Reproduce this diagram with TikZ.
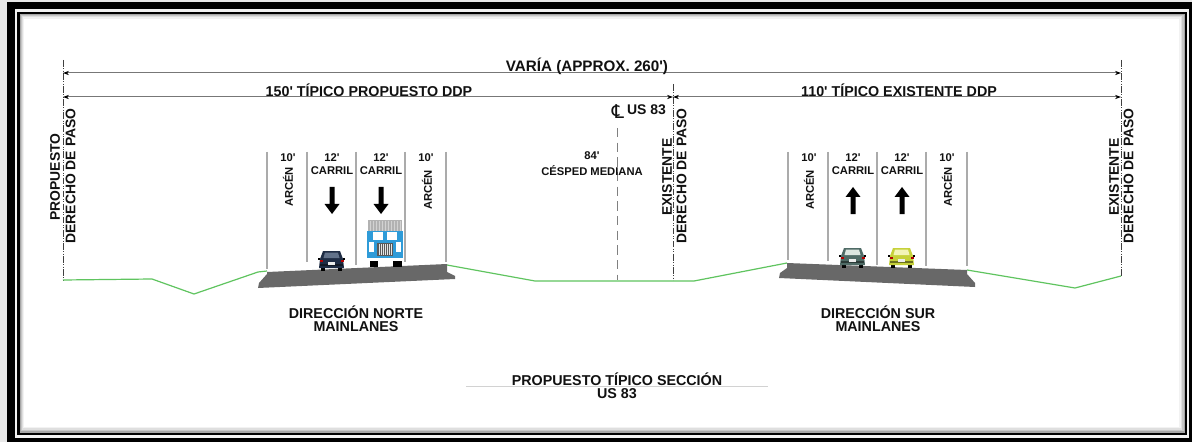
\documentclass[tikz,border=0pt]{standalone}
\usepackage{fontspec}
\setmainfont{Liberation Sans}[Ligatures=TeXOff]
\newfontfamily\djv{DejaVu Sans}
\usetikzlibrary{arrows.meta}
\newcommand\lbl[1]{\fontsize{\dimexpr#1pt*3/4\relax}{\dimexpr#1pt*3/4\relax}\selectfont\bfseries}
\definecolor{txt}{HTML}{111111}
\definecolor{grass}{HTML}{5FC45F}
\definecolor{pave}{HTML}{686868}
\definecolor{guide}{HTML}{ABABAB}
\definecolor{dimc}{HTML}{777777}
\definecolor{truckblue}{HTML}{2F9BD8}
\definecolor{carA}{HTML}{1E2C44}
\definecolor{winA}{HTML}{62728A}
\definecolor{carB}{HTML}{4F6B66}
\definecolor{winB}{HTML}{DCE6E0}
\definecolor{carC}{HTML}{C6D13A}
\definecolor{winC}{HTML}{F3F4B8}
\tikzset{
 x=0.75pt,y=-0.75pt,
 label/.style={inner sep=0,outer sep=0,text=txt,align=center},
 dimline/.style={draw=dimc,line width=0.75pt,{Stealth[length=4.5pt,width=3.2pt,color=black]}-{Stealth[length=4.5pt,width=3.2pt,color=black]}},
 rowline/.style={draw=black!75,line width=0.6pt,dash pattern=on 5pt off 1.2pt on 0.6pt off 1.2pt on 0.6pt off 1.2pt},
 cline/.style={draw=black!50,line width=0.6pt,dash pattern=on 7pt off 4pt},
 guideline/.style={draw=guide,line width=0.8pt},
 ground/.style={draw=grass,line width=0.9pt,line join=round},
 road/.style={fill=pave,draw=none},
}
\newcommand\dnarw[1]{\fill[black,shift={(#1,0)}] (-2.5,187)--(2.5,187)--(2.5,204)--(7.5,204)--(0,214)--(-7.5,204)--(-2.5,204)--cycle;}
\newcommand\uparw[1]{\fill[black,shift={(#1,0)}] (-2.5,214)--(2.5,214)--(2.5,197)--(7.5,197)--(0,187)--(-7.5,197)--(-2.5,197)--cycle;}
\newcommand\carback[4]{%
 \begin{scope}[shift={(#1,#2)}]
 \fill[black] (3,17) rectangle (7,21);
 \fill[black] (20,17) rectangle (24,21);
 \fill[#3] (2,9)--(5,1)--(22,1)--(25,9)--(26,18)--(1,18)--cycle;
 \fill[#4] (5.5,8)--(7,2.5)--(20,2.5)--(21.5,8)--cycle;
 \fill[#3!55!black] (2,14) rectangle (25,16);
 \fill[red!70!black] (1.5,9.5) rectangle (4.5,12);
 \fill[red!70!black] (22.5,9.5) rectangle (25.5,12);
 \fill[white!85!gray] (10,12) rectangle (17,14.5);
 \fill[black] (0,7.5) rectangle (2,9.5);
 \fill[black] (25,7.5) rectangle (27,9.5);
 \end{scope}}
\begin{document}
\begin{tikzpicture}
\useasboundingbox (0,0) rectangle (1192,442);
% frame
\fill[gray!18] (0,0) rectangle (1192,442);
\fill[black] (6.5,2) rectangle (1192,442);
\fill[gray!10] (14.5,9.5) rectangle (1189,437.5);
\fill[black] (17,12) rectangle (1187,435);
\fill[gray!70] (19.5,14.5) rectangle (1185,432.5);
\fill[gray!45] (20.5,15.5) rectangle (1183.5,431);
\fill[gray!25] (21.5,16.5) rectangle (1182,429.5);
\fill[gray!10] (22.5,17.5) rectangle (1180.5,428);
\fill[white] (24,19) rectangle (1179,426.5);
% coordinates
\coordinate (rowL) at (63,60);
\coordinate (rowLb) at (63,280);
\coordinate (rowM) at (673,84);
\coordinate (rowMb) at (673,280);
\coordinate (rowR) at (1121,60);
\coordinate (rowRb) at (1121,276);
\coordinate (clT) at (617,128);
\coordinate (clB) at (617,280);
\coordinate (d1a) at (63,73);
\coordinate (d1b) at (1121,73);
\coordinate (d2a) at (63,97);
\coordinate (d2b) at (673,97);
\coordinate (d3b) at (1121,97);
\coordinate (ttlA) at (466,386);
\coordinate (ttlB) at (768,386);
\draw[rowline] (rowL)--(rowLb);
\draw[rowline] (rowM)--(rowMb);
\draw[rowline] (rowR)--(rowRb);
\draw[cline] (clT)--(clB);
\draw[dimline] (d1a)--(d1b);
\draw[dimline] (d2a)--(d2b);
\draw[dimline] (d2b)--(d3b);
\draw[draw=gray!35,line width=0.6pt] (ttlA)--(ttlB);
% ground
\draw[ground] (63,280)--(152,279)--(194,294)--(258,272)--(267,271);
\draw[ground] (447,265)--(535,281)--(694,281)--(787,263);
\draw[ground] (967,270)--(1075,288)--(1121,276);
% guide lines
\foreach \a/\b in {267/269,307/262,356/265,405/262,446/262,788/260,828/261,877/265,926/266,967/266}
 \draw[guideline] (\a,152)--(\a,\b);
% roads
\fill[road] (267,272)--(447,264)--(447,272)--(455,276)--(455,279)--(258,288)--(259,283)--(267,274)--cycle;
\fill[road] (787,263)--(967,270)--(967,274)--(975,283)--(975,287)--(779,278)--(780,273)--(787,268)--cycle;
% arrows
\dnarw{332}\dnarw{381}\uparw{853}\uparw{902}
% vehicles
\carback{318}{250}{carA}{winA}
\carback{839}{247}{carB}{winB}
\carback{888}{247}{carC}{winC}
% truck
\fill[black] (370,258) rectangle (378,267);
\fill[black] (393,258) rectangle (402,267);
\fill[gray!60] (368,220) rectangle (402,231);
\foreach \i in {370,373,...,400} \draw[gray!35,line width=0.4pt] (\i,221)--(\i,231);
\fill[truckblue] (367,231) rectangle (403,258);
\fill[white] (373,232) rectangle (383,240);
\fill[white] (387,232) rectangle (397,240);
\fill[white] (369,242) rectangle (374,252);
\fill[white] (396,242) rectangle (401,252);
\fill[gray!70!black] (377,243) rectangle (393,256);
\foreach \i in {379,381,...,391} \draw[gray!20,line width=0.3pt] (\i,244)--(\i,255);
\fill[white] (367,258) rectangle (403,261);
% text
\node[label,font=\lbl{15.2}] (n1) at (587,66) {VARÍA (APPROX. 260')};
\node[label,font=\lbl{14.3}] (n2) at (369,90) {150' TÍPICO PROPUESTO DDP};
\node[label,font=\lbl{14.3}] (n3) at (899,90) {110' TÍPICO EXISTENTE DDP};
\node[label,font=\lbl{13.9},rotate=90] (n4) at (55,177) {PROPUESTO};
\node[label,font=\lbl{13.9},rotate=90] (n5) at (70.5,176) {DERECHO DE PASO};
\node[label,font=\lbl{13.9},rotate=90] (n6) at (667,177) {EXISTENTE};
\node[label,font=\lbl{13.9},rotate=90] (n7) at (681.5,176) {DERECHO DE PASO};
\node[label,font=\lbl{13.9},rotate=90] (n8) at (1114,177) {EXISTENTE};
\node[label,font=\lbl{13.9},rotate=90] (n9) at (1128.5,176) {DERECHO DE PASO};
\node[label,font=\lbl{19}\djv\mdseries] (cl) at (618,112) {℄};
\node[label,font=\lbl{14},anchor=west] (us) at (627,110) {US 83};
\node[label,font=\lbl{11.2}] (m1) at (592,156) {84'};
\node[label,font=\lbl{11.2}] (m2) at (592,171) {CÉSPED MEDIANA};
\node[label,font=\lbl{11.2}] (a1) at (288,158) {10'};
\node[label,font=\lbl{11.2}] (a2) at (332,158) {12'};
\node[label,font=\lbl{11.2}] (a3) at (381,158) {12'};
\node[label,font=\lbl{11.2}] (a4) at (426,158) {10'};
\node[label,font=\lbl{11.2}] (a5) at (809,158) {10'};
\node[label,font=\lbl{11.2}] (a6) at (853,158) {12'};
\node[label,font=\lbl{11.2}] (a7) at (902,158) {12'};
\node[label,font=\lbl{11.2}] (a8) at (947,158) {10'};
\node[label,font=\lbl{11.2}] (b1) at (332,171) {CARRIL};
\node[label,font=\lbl{11.2}] (b2) at (381,171) {CARRIL};
\node[label,font=\lbl{11.2}] (b3) at (853,171) {CARRIL};
\node[label,font=\lbl{11.2}] (b4) at (902,171) {CARRIL};
\node[label,font=\lbl{11.2},rotate=90] (c1) at (288,187) {ARCÉN};
\node[label,font=\lbl{11.2},rotate=90] (c2) at (427,190) {ARCÉN};
\node[label,font=\lbl{11.2},rotate=90] (c3) at (809,190) {ARCÉN};
\node[label,font=\lbl{11.2},rotate=90] (c4) at (947,187) {ARCÉN};
\node[label,font=\lbl{14.3}] (t1) at (356,312) {DIRECCIÓN NORTE};
\node[label,font=\lbl{14.3}] (t2) at (356,327) {MAINLANES};
\node[label,font=\lbl{14.3}] (t3) at (878,312) {DIRECCIÓN SUR};
\node[label,font=\lbl{14.3}] (t4) at (878,327) {MAINLANES};
\node[label,font=\lbl{14.3}] (t5) at (617,379) {PROPUESTO TÍPICO SECCIÓN};
\node[label,font=\lbl{14.3}] (t6) at (617,394) {US 83};
\end{tikzpicture}
\end{document}
